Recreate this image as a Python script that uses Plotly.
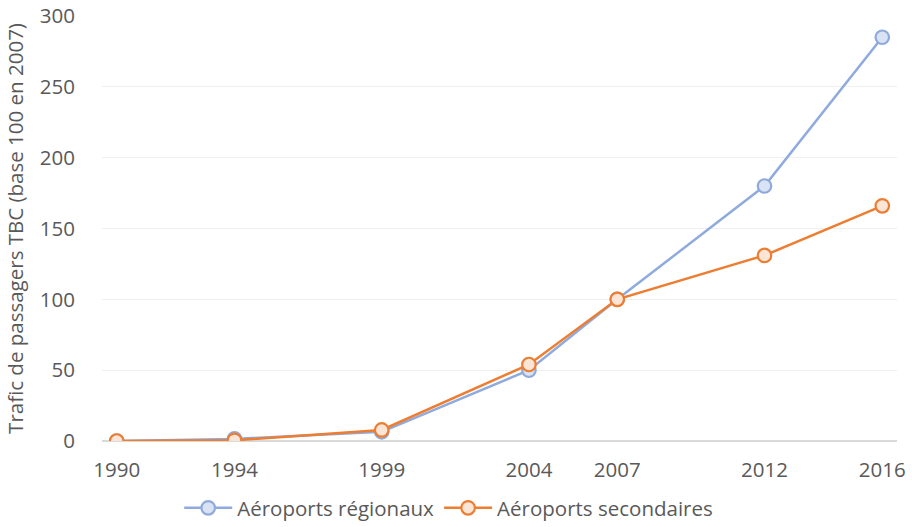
import plotly.graph_objects as go

years = [1990, 1994, 1999, 2004, 2007, 2012, 2016]
regionaux = [0, 1.5, 6.5, 50, 100, 180, 285]
secondaires = [0, 0.5, 7.8, 54, 100, 131, 166]
y_ticks = [0, 50, 100, 150, 200, 250, 300]

font_family = "Open Sans, Noto Sans, sans-serif"
txt = "#595959"

fig = go.Figure()
fig.add_trace(go.Scatter(
    x=years, y=regionaux, name="Aéroports régionaux", mode="lines+markers",
    line=dict(color="#8faadc", width=2.5),
    marker=dict(size=13.5, color="#dae3f3", line=dict(color="#8faadc", width=2.2)),
))
fig.add_trace(go.Scatter(
    x=years, y=secondaires, name="Aéroports secondaires", mode="lines+markers",
    line=dict(color="#ed7d31", width=2.5),
    marker=dict(size=13.5, color="#fbe5d6", line=dict(color="#ed7d31", width=2.2)),
))

fig.update_layout(
    width=912, height=527,
    margin=dict(l=102, r=15, t=16, b=86, autoexpand=False),
    paper_bgcolor="white", plot_bgcolor="white",
    font=dict(family=font_family, color=txt, size=20),
    showlegend=True,
    legend=dict(orientation="h", x=0.492, xanchor="center", xref="container",
                y=0.036, yanchor="middle", yref="container",
                font=dict(size=20.5, color=txt), itemwidth=48, tracegroupgap=0),
    xaxis=dict(range=[1989.5, 2016.5], tickmode="array", tickvals=years,
               ticktext=[str(y) for y in years], showgrid=False, zeroline=False,
               showline=False, automargin=False, ticklabelstandoff=14,
               ticklabeloverflow="allow",
               tickfont=dict(size=20.5, color=txt)),
    yaxis=dict(range=[0, 300], tickmode="array", tickvals=y_ticks,
               showgrid=True, gridcolor="#efefef", gridwidth=1,
               zeroline=True, zerolinecolor="#d9d9d9", zerolinewidth=1.5,
               showline=False, ticks="", ticklabelstandoff=26, automargin=False,
               ticklabeloverflow="allow",
               tickfont=dict(size=20.5, color=txt),
               title=dict(text="Trafic de passagers TBC (base 100 en 2007)",
                          font=dict(size=20.5, color=txt), standoff=10)),
)

fig.write_html("out.html", config={"displayModeBar": False},
               post_script="document.body.style.margin='0';")
